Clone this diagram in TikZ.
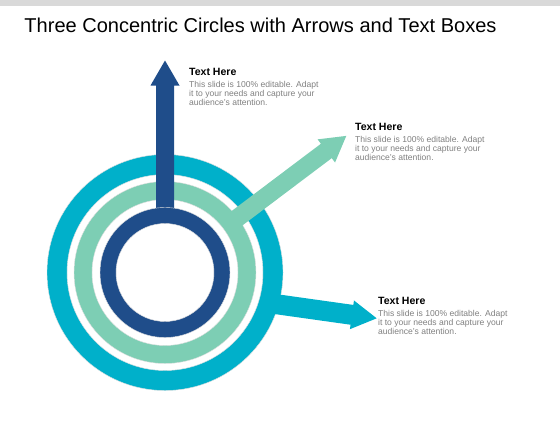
\documentclass[tikz,border=0pt]{standalone}
\usepackage{fontspec}
\setmainfont{Liberation Sans}
\usetikzlibrary{positioning}
\definecolor{ringcyan}{HTML}{00B0CA}
\definecolor{ringgreen}{HTML}{7DCEB4}
\definecolor{ringblue}{HTML}{1F4D8A}
\definecolor{bodygray}{HTML}{808080}
\tikzset{
  head/.style={anchor=base west,inner sep=0,font=\bfseries\fontsize{15}{15}\selectfont},
  body/.style={anchor=north west,inner sep=0,align=left,text=bodygray,font=\fontsize{12.2}{12.8}\selectfont},
  ringedge/.style={draw=black!12,line width=0.6pt,even odd rule}
}
\begin{document}
\begin{tikzpicture}[x=0.05cm,y=0.05cm,line join=round]
\def \w{9}\def \h{14.5}\def \L{25}
\useasboundingbox (0,0) rectangle (560,-420);
\fill[black!15] (0,0) rectangle (560,-6);
\node[font=\fontsize{28.5}{30}\selectfont,anchor=base] (title) at (260.5,-32) {Three Concentric Circles with Arrows and Text Boxes};
\coordinate (c) at (165,-272.5);
\coordinate (tip3) at (376.7,-318.3);
% outer ring and its arrow
\fill[ringcyan,ringedge,shift={(c)}] (0,0) circle (118) (0,0) circle (98);
\fill[ringcyan,shift={(tip3)},rotate=-8] (0,0) -- (-\L,\h) -- (-\L,10) -- (-115,10)
  -- (-115,-10) -- (-\L,-10) -- (-\L,-\h) -- cycle;
% middle ring
\fill[ringgreen,ringedge,shift={(c)}] (0,0) circle (91) (0,0) circle (73);
% radial arrows
\foreach \a/\r/\R/\col in {37/82/227/ringgreen, 90/57/212/ringblue}
  \fill[\col,shift={(c)},rotate=\a] (\r,-\w) -- (\R-\L,-\w) -- (\R-\L,-\h) -- (\R,0)
    -- (\R-\L,\h) -- (\R-\L,\w) -- (\r,\w) -- cycle;
% inner ring
\fill[ringblue,ringedge,shift={(c)}] (0,0) circle (65) (0,0) circle (49);
% text boxes
\node[head] (h1) at (189,-75) {Text Here};
\node[body,below=0.3cm of h1.base west,anchor=north west] (b1) {This slide is 100\% editable. Adapt\\ it to your needs and capture your\\ audience's attention.};
\node[head] (h2) at (355,-130.5) {Text Here};
\node[body,below=0.3cm of h2.base west,anchor=north west] (b2) {This slide is 100\% editable. Adapt\\ it to your needs and capture your\\ audience's attention.};
\node[head] (h3) at (378,-304.5) {Text Here};
\node[body,below=0.3cm of h3.base west,anchor=north west] (b3) {This slide is 100\% editable. Adapt\\ it to your needs and capture your\\ audience's attention.};
\end{tikzpicture}
\end{document}
